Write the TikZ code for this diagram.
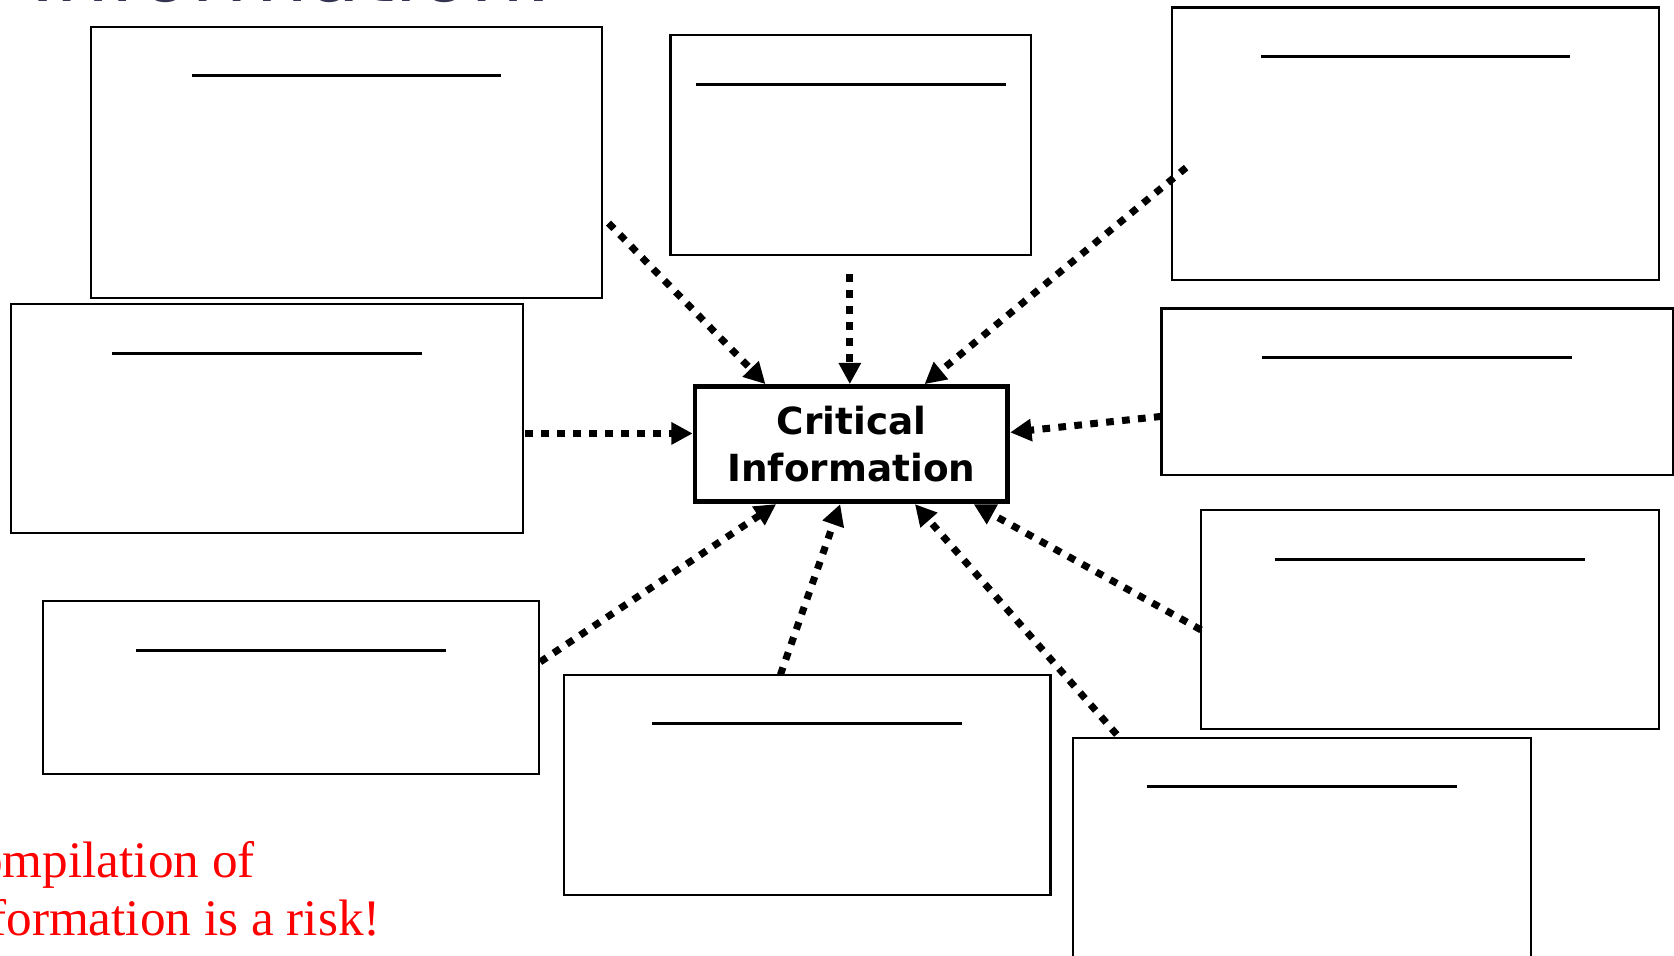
\documentclass[tikz,border=0pt]{standalone}
\usepackage{fontspec}
\usetikzlibrary{arrows.meta,fit}
\newfontfamily\labelsans{DejaVu Sans}
\newfontfamily\noteserif{Liberation Serif}
\definecolor{titlegray}{RGB}{52,52,82}
\definecolor{alertred}{RGB}{255,0,0}

\begin{document}
\begin{tikzpicture}[x=0.5pt,y=-0.5pt,
  infobox/.style={draw=black, line width=1pt, inner sep=0pt, outer sep=0pt},
  headline/.style={line width=1.4pt},
  corebox/.style={draw=black, line width=2.2pt, minimum width=146.5pt,
    minimum height=54pt, inner sep=0pt, align=center,
    font=\labelsans\bfseries\fontsize{17.5}{22.3}\selectfont},
  feed/.style={line width=3.3pt, dash pattern=on 3.6pt off 3.9pt,
    -{Triangle[length=10pt,width=10pt]}},
  note/.style={anchor=base east, inner sep=0pt, text=alertred,
    font=\noteserif\fontsize{24}{27}\selectfont},
]
\useasboundingbox (0,0) rectangle (1568,895);

% heading, mostly above the top edge
\node[anchor=base west, inner sep=0pt, text=titlegray,
  font=\labelsans\fontsize{40}{48}\selectfont] (heading) at (28,1) {Information:};

% empty source boxes
\node[infobox, fit={(85,25) (564,279)}] (tl) {};
\node[infobox, fit={(628,33) (966,239)}] (tc) {};
\node[infobox, fit={(1098,7) (1554,262)}] (tr) {};
\node[infobox, fit={(10,285) (490,499)}] (ml) {};
\node[infobox, fit={(1088,289) (1567,445)}] (mr) {};
\node[infobox, fit={(40,563) (505,725)}] (bl) {};
\node[infobox, fit={(528,632) (984,838)}] (bc) {};
\node[infobox, fit={(1125,478) (1554,683)}] (rr) {};
\node[infobox, fit={(1005,691) (1434,910)}] (br) {};

% a blank heading line in each box
\foreach \b in {tl,tc,tr,ml,mr,bl,bc,rr,br}
  \draw[headline] ([yshift=-23pt]\b.north) ++(-72.5pt,0pt) -- ++(145pt,0pt);

% central node
\node[corebox] (core) at (797.5,416) {Critical\\Information};

% dotted feeds into the central node
\draw[feed] ([shift={(6,57)}]tl.east)       -- ([shift={(-80.5,0)}]core.north);
\draw[feed] ([shift={(-1,18)}]tc.south)     -- ([shift={(-1.5,0)}]core.north);
\draw[feed] ([shift={(13,22.5)}]tr.west)    -- ([shift={(68.5,0)}]core.north);
\draw[feed] ([shift={(2,14)}]ml.east)       -- ([shift={(0,-10)}]core.west);
\draw[feed] ([shift={(0,23)}]mr.west)       -- ([shift={(0,-11)}]core.east);
\draw[feed] ([shift={(1,-24)}]bl.east)      -- ([shift={(-70.5,0)}]core.south);
\draw[feed] ([shift={(-25,0)}]bc.north)     -- ([shift={(-10.5,0)}]core.south);
\draw[feed] ([shift={(-173.5,-3)}]br.north) -- ([shift={(59.5,0)}]core.south);
\draw[feed] ([shift={(0,9.5)}]rr.west)      -- ([shift={(114.5,0)}]core.south);

% warning note, running off the left edge
\node[note] (risk1) at (239,822) {Compilation of};
\node[note] (risk2) at (357,876) {information is a risk!};
\end{tikzpicture}
\end{document}
